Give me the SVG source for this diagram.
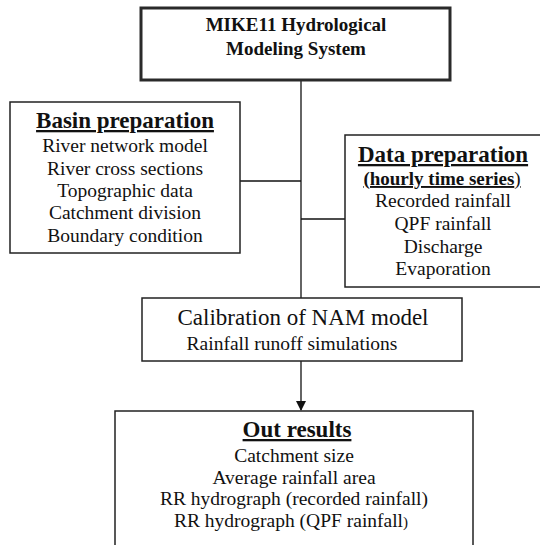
<svg xmlns="http://www.w3.org/2000/svg" width="540" height="545" viewBox="0 0 540 545">
<style>
.box{fill:#fff;stroke:#222;stroke-width:1.5}
.thick{stroke-width:3;stroke:#2a2a2a}
text{fill:#111;text-anchor:middle;font-family:'Liberation Serif','Times New Roman',serif}
.h{font-weight:bold;font-size:23px;text-decoration:underline}
.it{font-size:19.5px}
.conn{stroke:#111;stroke-width:1.3;fill:none}
</style>
<defs>
<marker id="arr" markerWidth="10" markerHeight="10" refX="9" refY="5" orient="auto" markerUnits="userSpaceOnUse">
<path d="M0,0 L10,5 L0,10 z" fill="#111"/>
</marker>
</defs>
<rect width="540" height="545" fill="#fff"/>
<g id="connectors">
<line class="conn" x1="301" y1="80" x2="301" y2="298"/>
<line class="conn" x1="240" y1="181" x2="301" y2="181"/>
<line class="conn" x1="301" y1="219" x2="345" y2="219"/>
<line class="conn" x1="301" y1="361" x2="301" y2="410" marker-end="url(#arr)"/>
</g>
<g id="mike11">
<rect class="box thick" x="141" y="8" width="309" height="72"/>
<text x="296" y="31" font-size="19" font-weight="bold">MIKE11 Hydrological</text>
<text x="296" y="55" font-size="19" font-weight="bold">Modeling System</text>
</g>
<g id="basin">
<rect class="box" x="10" y="102" width="230" height="151"/>
<text class="h" x="125" y="128">Basin preparation</text>
<text class="it" x="125" y="152">River network model</text>
<text class="it" x="125" y="175">River cross sections</text>
<text class="it" x="125" y="197">Topographic data</text>
<text class="it" x="125" y="219">Catchment division</text>
<text class="it" x="125" y="242">Boundary condition</text>
</g>
<g id="data">
<rect class="box" x="345" y="135" width="200" height="152"/>
<text class="h" x="443" y="162">Data preparation</text>
<text x="442" y="185" font-size="19" font-weight="bold" text-decoration="underline">(hourly time series<tspan font-weight="normal">)</tspan></text>
<text class="it" x="443" y="207">Recorded rainfall</text>
<text class="it" x="443" y="230">QPF rainfall</text>
<text class="it" x="443" y="253">Discharge</text>
<text class="it" x="443" y="275">Evaporation</text>
</g>
<g id="calibration">
<rect class="box" x="142" y="298" width="320" height="63"/>
<text x="303" y="325" font-size="23">Calibration of NAM model</text>
<text class="it" x="292" y="350">Rainfall runoff simulations</text>
</g>
<g id="results">
<rect class="box" x="115" y="411" width="358" height="150"/>
<text class="h" x="297" y="437">Out results</text>
<text class="it" x="294" y="462">Catchment size</text>
<text class="it" x="294" y="484">Average rainfall area</text>
<text class="it" x="294" y="505">RR hydrograph (recorded rainfall)</text>
<text class="it" x="291" y="527">RR hydrograph (QPF rainfall<tspan font-size="15">)</tspan></text>
</g>
</svg>
